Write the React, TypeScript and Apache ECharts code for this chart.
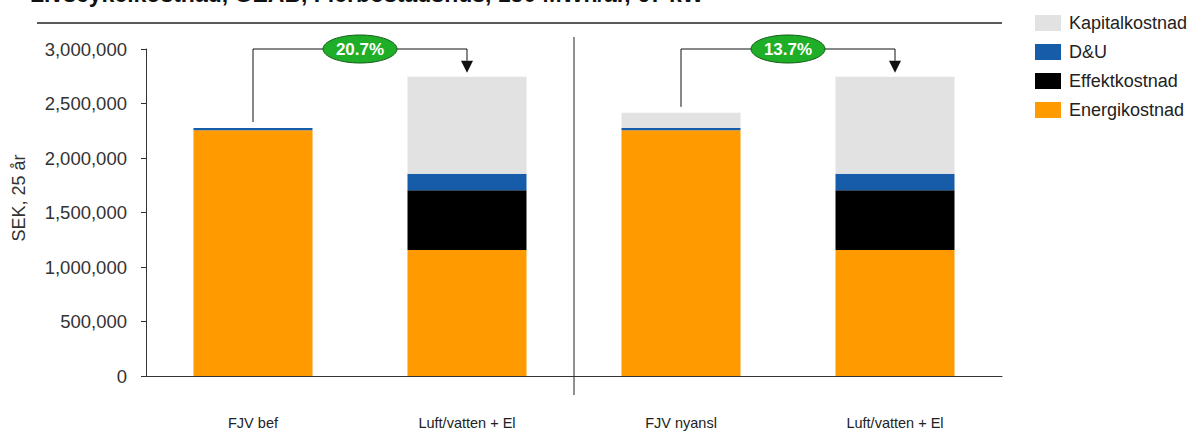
import React, { useEffect, useRef } from "react";
import * as echarts from "echarts";

const categories = ["FJV bef", "Luft/vatten + El", "FJV nyansl", "Luft/vatten + El"];
const energikostnad = [2255000, 1155000, 2255000, 1155000];
const effektkostnad = [0, 550000, 0, 550000];
const duKostnad = [20000, 150000, 20000, 150000];
const kapitalkostnad = [0, 890000, 139000, 890000];
const yTicks = { min: 0, max: 3000000, interval: 500000 };
const annotationPairs = [[0, 1], [2, 3]];
const annotationLabels = ["20.7%", "13.7%"];
const titleText = "Livscykelkostnad, GEAB, Flerbostadshus, 150 MWh/år, 67 kW";
const yName = "SEK, 25 år";

const FONT = "'Liberation Sans', Arial, sans-serif";
const COLORS = {
  energi: "#FF9A00",
  effekt: "#000000",
  du: "#165CA8",
  kapital: "#E2E2E2",
};

export default function App() {
  const ref = useRef<HTMLDivElement>(null);
  useEffect(() => {
    if (!ref.current) return;
    const chart = echarts.init(ref.current, null, { renderer: "svg" });
    const seriesDefs = [
      { name: "Energikostnad", data: energikostnad, color: COLORS.energi },
      { name: "Effektkostnad", data: effektkostnad, color: COLORS.effekt },
      { name: "D&U", data: duKostnad, color: COLORS.du },
      { name: "Kapitalkostnad", data: kapitalkostnad, color: COLORS.kapital },
    ];
    chart.setOption({
      animation: false,
      textStyle: { fontFamily: FONT },
      grid: { left: 146, right: 193, top: 49, bottom: 58 },
      legend: {
        orient: "vertical",
        left: 1030,
        top: 9,
        itemWidth: 26,
        itemHeight: 16,
        itemGap: 11,
        icon: "rect",
        data: ["Kapitalkostnad", "D&U", "Effektkostnad", "Energikostnad"],
        textStyle: { fontSize: 18, color: "#222", fontFamily: FONT, padding: [0, 0, 0, 3] },
      },
      xAxis: {
        type: "category",
        data: categories,
        axisLine: { lineStyle: { color: "#333", width: 1 } },
        axisTick: { show: false },
        axisLabel: { fontSize: 14.5, color: "#222", margin: 39, fontFamily: FONT, interval: 0 },
      },
      yAxis: {
        type: "value",
        min: yTicks.min,
        max: yTicks.max,
        interval: yTicks.interval,
        splitLine: { show: false },
        axisLine: { show: true, lineStyle: { color: "#333", width: 1 } },
        axisTick: { show: true, length: 5, lineStyle: { color: "#333" } },
        axisLabel: {
          fontSize: 18.5,
          color: "#333",
          margin: 19,
          fontFamily: FONT,
          formatter: (v: number) => v.toLocaleString("en-US"),
        },
      },
      series: seriesDefs.map((s) => ({
        name: s.name,
        type: "bar",
        stack: "total",
        barWidth: 119,
        data: s.data,
        itemStyle: { color: s.color },
      })),
    });

    const totals = categories.map(
      (_, i) => energikostnad[i] + effektkostnad[i] + duKostnad[i] + kapitalkostnad[i]
    );
    const px = (i: number, v: number) =>
      chart.convertToPixel({ xAxisIndex: 0, yAxisIndex: 0 }, [i, v]) as number[];

    const graphics: any[] = [];
    graphics.push({
      type: "text",
      left: 30,
      top: -18,
      style: { text: titleText, font: `bold 23px ${FONT}`, fill: "#111" },
    });
    graphics.push({
      type: "line",
      shape: { x1: 37, y1: 23, x2: 1002, y2: 23 },
      style: { stroke: "#222", lineWidth: 1.5 },
    });
    const dividerX = (px(1, 0)[0] + px(2, 0)[0]) / 2;
    graphics.push({
      type: "line",
      shape: { x1: dividerX, y1: 37, x2: dividerX, y2: 395 },
      style: { stroke: "#222", lineWidth: 1 },
    });
    graphics.push({
      type: "text",
      x: 19,
      y: 198,
      rotation: Math.PI / 2,
      style: {
        text: yName,
        font: `18px ${FONT}`,
        fill: "#333",
        align: "center",
        verticalAlign: "middle",
      },
    });

    annotationPairs.forEach(([a, b], k) => {
      const pa = px(a, totals[a]);
      const pb = px(b, totals[b]);
      const yLine = px(a, yTicks.max)[1];
      const tipY = pb[1] - 4;
      const triH = 12;
      graphics.push({
        type: "polyline",
        shape: {
          points: [
            [pa[0], pa[1] - 6],
            [pa[0], yLine],
            [pb[0], yLine],
            [pb[0], tipY - triH],
          ],
        },
        style: { stroke: "#111", lineWidth: 1, fill: null },
      });
      graphics.push({
        type: "polygon",
        shape: {
          points: [
            [pb[0] - 6, tipY - triH],
            [pb[0] + 6, tipY - triH],
            [pb[0], tipY],
          ],
        },
        style: { fill: "#111" },
      });
      const cx = (pa[0] + pb[0]) / 2;
      graphics.push({
        type: "ellipse",
        shape: { cx, cy: yLine, rx: 37, ry: 14 },
        style: { fill: "#1FAE27", stroke: "#145c17", lineWidth: 1 },
      });
      graphics.push({
        type: "text",
        x: cx,
        y: yLine,
        style: {
          text: annotationLabels[k],
          font: `bold 17px ${FONT}`,
          fill: "#fff",
          align: "center",
          verticalAlign: "middle",
        },
      });
    });

    chart.setOption({ graphic: graphics });
    return () => chart.dispose();
  }, []);
  return (
    <div
      ref={ref}
      style={{ position: "absolute", left: 0, top: 0, width: 1195, height: 434 }}
    />
  );
}
